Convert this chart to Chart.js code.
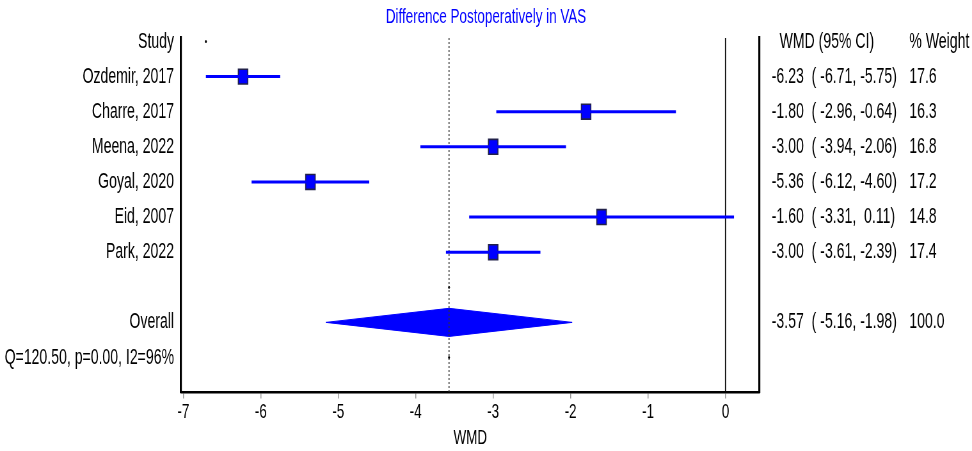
<!DOCTYPE html>
<html>
<head>
<meta charset="utf-8">
<script src="https://cdn.jsdelivr.net/npm/chart.js@4.4.0/dist/chart.umd.min.js"></script>
<style>
html,body{margin:0;padding:0;background:#fff;overflow:hidden;}
#outer{width:972px;height:451px;overflow:hidden;position:relative;}
/* the original figure is horizontally condensed: draw wide, then squeeze */
#wrap{width:1519px;height:451px;position:absolute;left:0;top:0;transform:scaleX(0.63989);transform-origin:0 0;}
</style>
</head>
<body>
<div id="outer"><div id="wrap"><canvas id="c"></canvas></div></div>
<script>
// ---- data ----
const studies = ['Ozdemir, 2017','Charre, 2017','Meena, 2022','Goyal, 2020','Eid, 2007','Park, 2022'];
const wmd     = [-6.23, -1.80, -3.00, -5.36, -1.60, -3.00];
const ciLow   = [-6.71, -2.96, -3.94, -6.12, -3.31, -3.61];
const ciHigh  = [-5.75, -0.64, -2.06, -4.60,  0.11, -2.39];
const weights = [17.6, 16.3, 16.8, 17.2, 14.8, 17.4];
const overallWmd = -3.57, overallLow = -5.16, overallHigh = -1.98, overallWeight = 100.0;
const heterogeneity = 'Q=120.50, p=0.00, I2=96%';
const xTicks = [-7, -6, -5, -4, -3, -2, -1, 0];
const titleText = 'Difference Postoperatively in VAS';
const xTitle = 'WMD';
const headerLeft = 'Study', headerMid = '  WMD (95% CI)', headerRight = '% Weight';

// ---- row layout (row index on y axis) ----
const studyRows = studies.map((s, i) => i + 1);
const overallRow = studies.length + 2;
const hetRow = overallRow + 1;
const rowCount = hetRow + 1;

const fmt = v => (v >= 0 ? ' ' : '') + v.toFixed(2);
const leftLabels = [], midLabels = [], rightLabels = [];
for (let r = 0; r < rowCount; r++) { leftLabels.push(''); midLabels.push(''); rightLabels.push(''); }
leftLabels[0] = headerLeft; midLabels[0] = headerMid; rightLabels[0] = headerRight;
studies.forEach((s, i) => {
  const r = studyRows[i];
  leftLabels[r] = s;
  midLabels[r] = `${fmt(wmd[i])}  ( ${fmt(ciLow[i])}, ${fmt(ciHigh[i])})`;
  rightLabels[r] = weights[i].toFixed(1);
});
leftLabels[overallRow] = 'Overall';
midLabels[overallRow] = `${fmt(overallWmd)}  ( ${fmt(overallLow)}, ${fmt(overallHigh)})`;
rightLabels[overallRow] = overallWeight.toFixed(1);
leftLabels[hetRow] = heterogeneity;

const FONT = "'Liberation Sans', Arial, sans-serif";
const BLUE = '#0000ff';
const Y_MIN = -0.1, Y_MAX = rowCount;

const datasets = [];
// whiskers
studies.forEach((s, i) => {
  datasets.push({
    data: [{x: ciLow[i], y: studyRows[i]}, {x: ciHigh[i], y: studyRows[i]}],
    showLine: true, borderColor: BLUE, borderWidth: 3, pointRadius: 0, borderCapStyle: 'butt'
  });
});
// overall reference (dotted) line
datasets.push({
  data: [{x: overallWmd, y: Y_MIN}, {x: overallWmd, y: Y_MAX}],
  showLine: true, borderColor: '#333', borderWidth: 1.6, borderDash: [2, 2], pointRadius: 0
});
// no-effect line
datasets.push({
  data: [{x: 0, y: Y_MIN}, {x: 0, y: Y_MAX}],
  showLine: true, borderColor: '#000', borderWidth: 1.7, pointRadius: 0
});
// diamond
datasets.push({
  type: 'line',
  data: [{x: overallLow, y: overallRow}, {x: overallWmd, y: overallRow - 0.4},
         {x: overallHigh, y: overallRow}, {x: overallWmd, y: overallRow + 0.4},
         {x: overallLow, y: overallRow}],
  fill: 'shape', borderColor: BLUE, backgroundColor: BLUE, borderWidth: 1, pointRadius: 0, tension: 0
});
// study boxes
datasets.push({
  data: wmd.map((v, i) => ({x: v, y: studyRows[i]})),
  pointStyle: 'rect', pointRadius: 10.5, backgroundColor: BLUE, borderColor: '#22224a', borderWidth: 1.6
});
// small artefact dots
datasets.push({
  data: [{x: Math.min(...ciLow), y: 0}, {x: overallWmd, y: overallRow - 1}, {x: overallWmd, y: hetRow}],
  pointRadius: 1.5, backgroundColor: '#000', borderColor: '#000', borderWidth: 0
});

const rowTicks = s => { s.ticks = leftLabels.map((l, i) => ({value: i})); };
const noGrid = { display: false, drawTicks: false, tickLength: 0 };

new Chart(document.getElementById('c'), {
  type: 'scatter',
  data: { datasets },
  options: {
    responsive: true, maintainAspectRatio: false, animation: false,
    layout: { padding: 0 },
    plugins: {
      legend: { display: false }, tooltip: { enabled: false },
      title: { display: true, text: titleText, color: BLUE, font: { family: FONT, size: 21, weight: 'normal' },
               padding: { top: 5, bottom: 7.8 } }
    },
    scales: {
      x: {
        type: 'linear', position: 'bottom', min: -7.03, max: 0.44,
        afterBuildTicks: s => { s.ticks = xTicks.map(v => ({value: v})); },
        border: { display: true, color: '#000', width: 2.5 },
        grid: { display: true, drawOnChartArea: false, drawTicks: true, tickLength: 6, color: '#999', lineWidth: 1.5 },
        ticks: { color: '#000', font: { family: FONT, size: 21 }, padding: 1 },
        title: { display: true, text: xTitle, color: '#000', font: { family: FONT, size: 21 }, padding: { top: 0, bottom: 0 } }
      },
      y: {
        type: 'linear', position: 'left', reverse: true, min: Y_MIN, max: Y_MAX,
        afterBuildTicks: rowTicks,
        afterFit: s => { s.width = 283; },
        border: { display: true, color: '#000', width: 3.2 },
        grid: noGrid,
        ticks: { color: '#000', font: { family: FONT, size: 22 }, padding: 11, callback: v => leftLabels[v] }
      },
      y2: {
        type: 'linear', position: 'right', reverse: true, min: Y_MIN, max: Y_MAX,
        afterBuildTicks: rowTicks,
        afterFit: s => { s.width = 231; },
        border: { display: true, color: '#000', width: 3.2 },
        grid: noGrid,
        ticks: { color: '#000', font: { family: FONT, size: 22 }, padding: 19, callback: v => midLabels[v] }
      },
      y3: {
        type: 'linear', position: 'right', reverse: true, min: Y_MIN, max: Y_MAX,
        afterBuildTicks: rowTicks,
        afterFit: s => { s.width = 101; },
        border: { display: false },
        grid: noGrid,
        ticks: { color: '#000', font: { family: FONT, size: 22 }, padding: 3, callback: v => rightLabels[v] }
      }
    }
  }
});
</script>
</body>
</html>
